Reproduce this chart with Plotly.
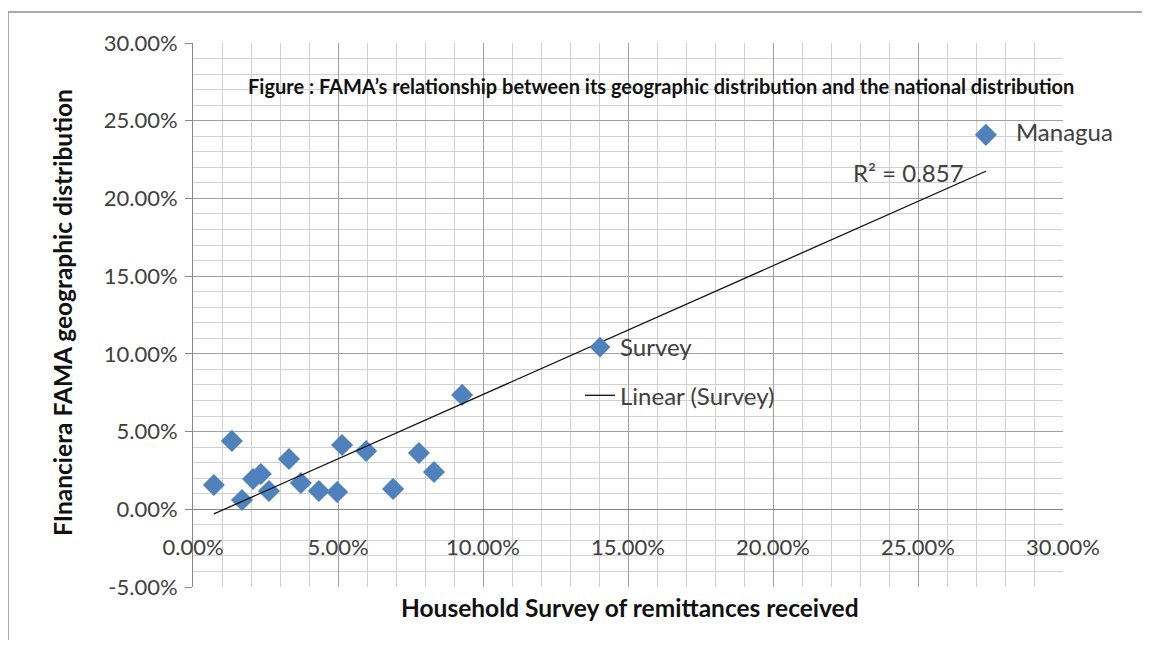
import numpy as np
import plotly.graph_objects as go

# Data (percent values)
household_survey = [0.72, 1.34, 1.69, 2.07, 2.34, 2.62, 3.31, 3.72, 4.34, 4.97,
                    5.14, 5.97, 6.90, 7.79, 8.31, 9.28, 27.34]
fama_distribution = [1.56, 4.40, 0.60, 1.95, 2.27, 1.18, 3.24, 1.69, 1.18, 1.11,
                     4.14, 3.75, 1.31, 3.62, 2.40, 7.36, 24.09]
point_labels = [""] * 16 + ["Managua"]

x_ticks = [0, 5, 10, 15, 20, 25, 30]
y_ticks = [-5, 0, 5, 10, 15, 20, 25, 30]

title_text = "Figure : FAMA\u2019s relationship between its geographic distribution and the national distribution"
x_title = "Household Survey of remittances received"
y_title = "FInanciera FAMA geographic distribution"
r2_text = "R\u00b2 = 0.857"

x = np.array(household_survey) / 100
y = np.array(fama_distribution) / 100

slope, intercept = np.polyfit(x, y, 1)
trend_x = np.array([x.min(), x.max()])
trend_y = slope * trend_x + intercept

FONT = "Lato"
BLUE = "#4F81BD"
TXT = "#404040"

# page is rendered with an 8px body margin
OFF = 8
W, H = 1150 - 2 * OFF, 648 - 2 * OFF
PL, PR, PT, PB = 193, 1063, 43, 587   # plot area in page pixels
L, T = PL - OFF, PT - OFF
R, B = W - (PR - OFF), H - (PB - OFF)
PW, PH = PR - PL, PB - PT


def px(xpage):
    return (xpage - PL) / PW


def py(ypage):
    return (PB - ypage) / PH


y_min, y_max = -0.05, 0.30
x_axis_pos = (0 - y_min) / (y_max - y_min)

fig = go.Figure()
fig.add_trace(go.Scatter(
    x=x, y=y, mode="markers+text", name="Survey",
    marker=dict(symbol="diamond", size=17, color=BLUE, line=dict(width=0)),
    text=["   " + t if t else "" for t in point_labels],
    textposition="middle right",
    textfont=dict(family=FONT, size=24, color=TXT),
    cliponaxis=False, legendgroup="a",
))
fig.add_trace(go.Scatter(
    x=trend_x, y=trend_y, mode="lines", name="Linear (Survey)",
    line=dict(color="#111111", width=1.3), legendgroup="b",
))

fig.update_layout(
    width=W, height=H,
    margin=dict(l=L, r=R, t=T, b=B, autoexpand=False),
    paper_bgcolor="white", plot_bgcolor="white",
    font=dict(family=FONT, size=22, color=TXT),
    showlegend=True,
    legend=dict(x=px(580), y=py(325), xanchor="left", yanchor="top",
                bgcolor="rgba(0,0,0,0)", font=dict(family=FONT, size=24, color=TXT),
                tracegroupgap=14, traceorder="grouped"),
    xaxis=dict(
        range=[0, 0.30], tickvals=[v / 100 for v in x_ticks],
        ticktext=[f"{v:.2f}%" for v in x_ticks],
        showgrid=True, gridcolor="#A0A0A0", gridwidth=1,
        minor=dict(dtick=0.01, tick0=0, showgrid=True, gridcolor="#D0D0D0", gridwidth=1),
        anchor="free", position=x_axis_pos,
        showline=False, ticks="", ticklabelstandoff=23,
        tickfont=dict(family=FONT, size=22, color=TXT),
        zeroline=False,
    ),
    yaxis=dict(
        range=[y_min, y_max], tickvals=[v / 100 for v in y_ticks],
        ticktext=[f"{v:.2f}%" for v in y_ticks],
        showgrid=True, gridcolor="#A0A0A0", gridwidth=1,
        minor=dict(dtick=0.01, tick0=0, showgrid=True, gridcolor="#D0D0D0", gridwidth=1),
        showline=True, linecolor="#888888", linewidth=1,
        ticks="outside", ticklen=7, tickcolor="#888888", ticklabelstandoff=3,
        tickfont=dict(family=FONT, size=22, color=TXT),
        zeroline=True, zerolinecolor="#888888", zerolinewidth=1,
    ),
    annotations=[
        dict(text=f"<b>{title_text}</b>", xref="paper", yref="paper",
             x=px(661), y=py(86), xanchor="center", yanchor="middle", showarrow=False,
             font=dict(family=FONT, size=20, color="#111111")),
        dict(text=r2_text, xref="paper", yref="paper",
             x=px(908), y=py(172), xanchor="center", yanchor="middle", showarrow=False,
             font=dict(family=FONT, size=24, color=TXT)),
        dict(text=f"<b>{x_title}</b>", xref="paper", yref="paper",
             x=px(630), y=py(607), xanchor="center", yanchor="middle", showarrow=False,
             font=dict(family=FONT, size=24.5, color="#111111")),
        dict(text=f"<b>{y_title}</b>", xref="paper", yref="paper",
             x=px(62), y=py(313), xanchor="center", yanchor="middle", showarrow=False,
             textangle=-90, font=dict(family=FONT, size=24.5, color="#111111")),
    ],
    shapes=[
        dict(type="line", xref="paper", yref="paper",
             x0=px(8), x1=px(8), y0=py(700), y1=py(12),
             line=dict(color="#8C8C8C", width=1.5), layer="below"),
        dict(type="line", xref="paper", yref="paper",
             x0=px(8), x1=px(1200), y0=py(12), y1=py(12),
             line=dict(color="#8C8C8C", width=1.5), layer="below"),
    ],
)

fig.write_html("out.html")
